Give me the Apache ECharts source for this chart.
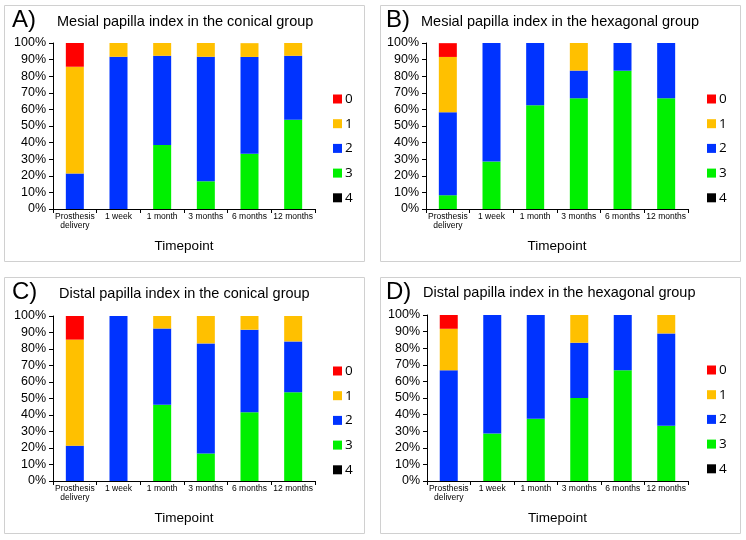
<!DOCTYPE html>
<html><head><meta charset="utf-8">
<script src="https://cdn.jsdelivr.net/npm/echarts@6/dist/echarts.min.js"></script>
<style>html,body{margin:0;padding:0;background:#fff}#c{width:746px;height:540px}</style>
</head><body><div id="c"></div>
<script>
var categories = ['Prosthesis\ndelivery','1 week','1 month','3 months','6 months','12 months'];
var scoreNames = ['0','1','2','3','4'];
var yTicks = [0,10,20,30,40,50,60,70,80,90,100];
var panelLetters = ['A)','B)','C)','D)'];
var panelTitles = ['Mesial papilla index in the conical group','Mesial papilla index in the hexagonal group','Distal papilla index in the conical group','Distal papilla index in the hexagonal group'];
// Panel A: mesial, conical
var a0 = [14.3,0,0,0,0,0];
var a1 = [64.3,8.3,7.7,8.3,8.3,7.7];
var a2 = [21.4,91.7,53.8,75.0,58.3,38.5];
var a3 = [0,0,38.5,16.7,33.3,53.8];
var a4 = [0,0,0,0,0,0];
// Panel B: mesial, hexagonal
var b0 = [8.3,0,0,0,0,0];
var b1 = [33.3,0,0,16.7,0,0];
var b2 = [50.0,71.4,37.5,16.7,16.7,33.3];
var b3 = [8.3,28.6,62.5,66.7,83.3,66.7];
var b4 = [0,0,0,0,0,0];
// Panel C: distal, conical
var c0 = [14.3,0,0,0,0,0];
var c1 = [64.3,0,7.7,16.7,8.3,15.4];
var c2 = [21.4,100,46.2,66.7,50.0,30.8];
var c3 = [0,0,46.2,16.7,41.7,53.8];
var c4 = [0,0,0,0,0,0];
// Panel D: distal, hexagonal
var d0 = [8.3,0,0,0,0,0];
var d1 = [25.0,0,0,16.7,0,11.1];
var d2 = [66.7,71.4,62.5,33.3,33.3,55.6];
var d3 = [0,28.6,37.5,50.0,66.7,33.3];
var d4 = [0,0,0,0,0,0];

var panelData = [[a0,a1,a2,a3,a4],[b0,b1,b2,b3,b4],[c0,c1,c2,c3,c4],[d0,d1,d2,d3,d4]];
var colors = {'0':'#FF0000','1':'#FFC000','2':'#0033FF','3':'#00F000','4':'#000000'};
var FONT = 'Liberation Sans';

var grids = [
  {left:53, top:43, width:262, height:166},
  {left:426, top:43, width:262, height:166},
  {left:53, top:316, width:262, height:165},
  {left:427, top:315, width:261, height:166}
];
var boxes = [
  {x:4.5,y:5.5,w:360,h:256},
  {x:380.5,y:5.5,w:360,h:256},
  {x:4.5,y:277.5,w:360,h:256},
  {x:380.5,y:277.5,w:360,h:256}
];
var letterPos = [[12,8],[386,8],[12,280],[386,280]];
var titlePos = [[57,14],[421,14],[59,286],[423,285]];
var legendPos = [[328,87],[702,87],[328,359],[702,358]];

var option = {
  animation:false,
  textStyle:{fontFamily:FONT},
  grid:[], xAxis:[], yAxis:[], series:[], legend:[], title:[], graphic:[]
};
for (var p=0;p<4;p++){
  option.grid.push(Object.assign({containLabel:false}, grids[p]));
  option.xAxis.push({
    type:'category', gridIndex:p, data:categories,
    name:'Timepoint', nameLocation:'middle', nameGap:30,
    nameTextStyle:{fontSize:13.5, color:'#000', fontFamily:FONT},
    axisLine:{lineStyle:{color:'#000', width:1}},
    axisTick:{show:true, alignWithLabel:false, length:4, lineStyle:{color:'#000'}},
    axisLabel:{fontSize:8.5, color:'#000', margin:3, interval:0, lineHeight:9, fontFamily:FONT}
  });
  option.yAxis.push({
    type:'value', gridIndex:p, min:0, max:100, interval:10,
    axisLine:{show:true, lineStyle:{color:'#000', width:1}},
    axisTick:{show:true, length:4, lineStyle:{color:'#000'}},
    splitLine:{show:false},
    axisLabel:{fontSize:12.5, color:'#000', margin:7, formatter:'{value}%', fontFamily:FONT}
  });
  for (var k=4;k>=0;k--){
    option.series.push({
      type:'bar', name:scoreNames[k], xAxisIndex:p, yAxisIndex:p,
      stack:'s'+p, data:panelData[p][k], barWidth:18,
      itemStyle:{color:colors[scoreNames[k]]}
    });
  }
  option.legend.push({
    orient:'vertical', left:legendPos[p][0], top:legendPos[p][1],
    data:scoreNames, icon:'rect', itemWidth:9, itemHeight:9, itemGap:10.7,
    textStyle:{fontSize:13.5, color:'#000', fontFamily:'Open Sans', padding:[0,0,0,-2]},
    selectedMode:false
  });
  option.title.push({
    text:panelLetters[p], left:letterPos[p][0], top:letterPos[p][1],
    textStyle:{fontSize:24, fontWeight:'normal', color:'#000', fontFamily:FONT}, padding:0
  });
  option.title.push({
    text:panelTitles[p], left:titlePos[p][0], top:titlePos[p][1],
    textStyle:{fontSize:14.5, fontWeight:'normal', color:'#000', fontFamily:FONT}, padding:0
  });
  option.graphic.push({
    type:'rect', shape:{x:boxes[p].x, y:boxes[p].y, width:boxes[p].w, height:boxes[p].h},
    style:{fill:null, stroke:'#d0d0d0', lineWidth:1}, z:-1, silent:true
  });
}
var chart = echarts.init(document.getElementById('c'), null, {renderer:'canvas'});
chart.setOption(option);
</script>
</body></html>
